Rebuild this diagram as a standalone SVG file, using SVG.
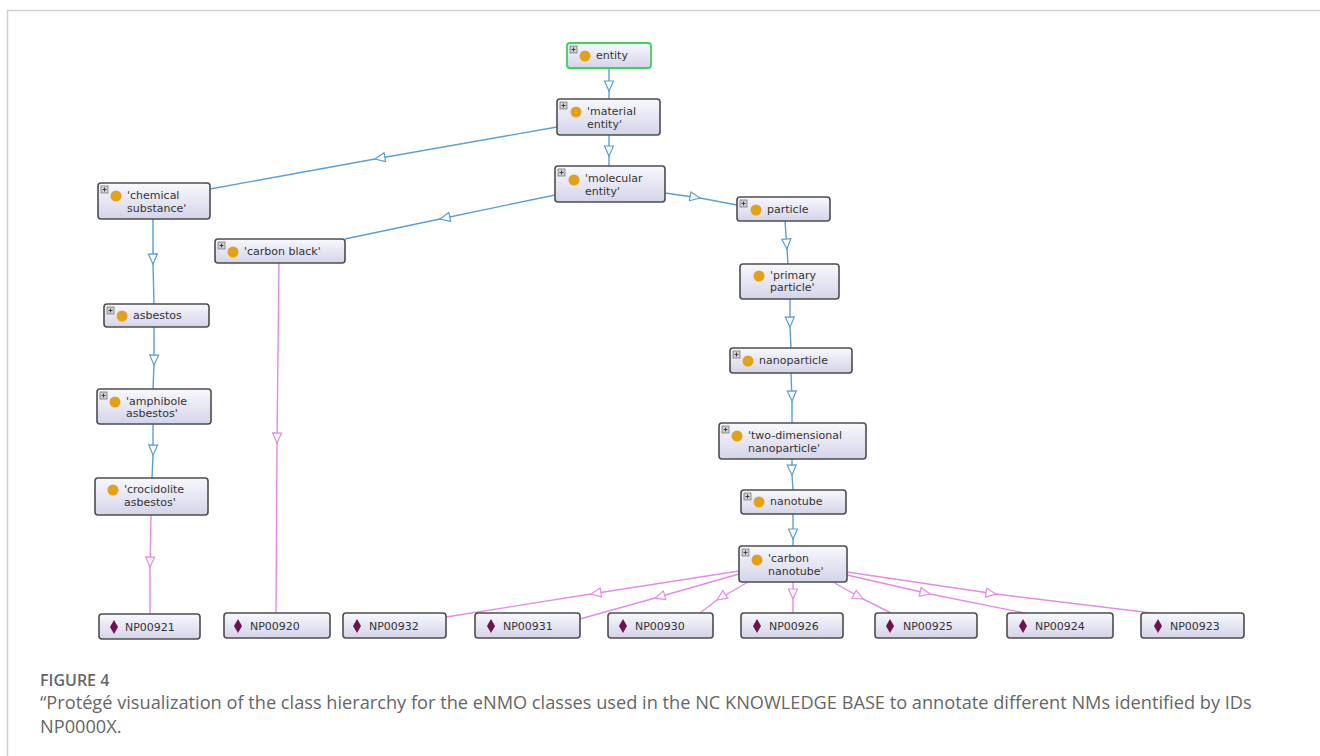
<svg xmlns="http://www.w3.org/2000/svg" width="1320" height="756" viewBox="0 0 1320 756">
<defs>
<linearGradient id="g" x1="0" y1="0" x2="0" y2="1">
<stop offset="0" stop-color="#f8f8fd"/>
<stop offset="1" stop-color="#d4d4ea"/>
</linearGradient>
<marker id="ab" markerUnits="userSpaceOnUse" markerWidth="12" markerHeight="10" refX="10" refY="4.5" orient="auto" overflow="visible">
<path d="M0,0 L10,4.5 L0,9 Z" fill="#fff" stroke="#5b9fd4" stroke-width="1.2"/>
</marker>
<marker id="ap" markerUnits="userSpaceOnUse" markerWidth="12" markerHeight="10" refX="10" refY="4.5" orient="auto" overflow="visible">
<path d="M0,0 L10,4.5 L0,9 Z" fill="#fff" stroke="#e58ae6" stroke-width="1.2"/>
</marker>
</defs>
<style>
.n{fill:url(#g);stroke:#4d4d4d;stroke-width:1.6}
.t{font-family:"DejaVu Sans",Verdana,sans-serif;font-size:11px;fill:#333}
.c{fill:#e3a118}
.d{fill:#6e1250}
.pb{fill:#d0d0d8;stroke:#7a7a7a;stroke-width:0.8}
.pl{stroke:#333;stroke-width:0.9}
.eb{fill:none;stroke:#5b9fd4;stroke-width:1.4;marker-mid:url(#ab)}
.ep{fill:none;stroke:#e58ae6;stroke-width:1.4;marker-mid:url(#ap)}
.cap{font-family:"Open Sans",sans-serif;fill:#666}
</style>
<rect x="0" y="0" width="1320" height="756" fill="#fff"/>
<path d="M7.5,756 V10.5 H1320" fill="none" stroke="#cfcfcf" stroke-width="1.5"/>

<g id="connectors">
<path class="eb" d="M609,68 L609,91 L609,99"/>
<path class="eb" d="M557,127 L375,159 L210,189"/>
<path class="eb" d="M609,135 L609,156 L609,166"/>
<path class="eb" d="M555,195 L440,219 L345,239"/>
<path class="eb" d="M665,193 L700,198 L737,205"/>
<path class="eb" d="M785,221 L787,249 L788,264"/>
<path class="eb" d="M790,299 L790,327 L791,348"/>
<path class="eb" d="M791,373 L792,401 L792,423"/>
<path class="eb" d="M792,459 L792,475 L793,490"/>
<path class="eb" d="M793,514 L793,539 L793,546"/>
<path class="eb" d="M153,219 L153,264 L154,304"/>
<path class="eb" d="M154,327 L154,365 L153,389"/>
<path class="eb" d="M153,424 L153,455 L152,478"/>
<path class="ep" d="M151,515 L150,567 L150,614"/>
<path class="ep" d="M279,263 L277,443 L276,613"/>
<path class="ep" d="M739,571 L591,594 L446,617"/>
<path class="ep" d="M739,574 L655,598 L580,619"/>
<path class="ep" d="M748,582 L717,600 L700,613"/>
<path class="ep" d="M793,582 L793,599 L793,614"/>
<path class="ep" d="M833,582 L863,599 L893,614"/>
<path class="ep" d="M847,575 L930,594 L1030,614"/>
<path class="ep" d="M847,572 L996,594 L1160,614"/>
</g>

<g id="entity">
<rect x="567" y="43" width="84" height="25" rx="3" fill="url(#g)" stroke="#3ad35a" stroke-width="1.8"/>
<rect class="pb" x="570" y="46" width="7" height="7"/><path class="pl" d="M571.5,49.5h4M573.5,47.5v4"/>
<circle class="c" cx="585" cy="56" r="5.5"/>
<text class="t" x="596" y="59">entity</text>
</g>
<g id="material-entity">
<rect class="n" x="557" y="99" width="103" height="36" rx="3"/>
<rect class="pb" x="560" y="102" width="7" height="7"/><path class="pl" d="M561.5,105.5h4M563.5,103.5v4"/>
<circle class="c" cx="576" cy="112" r="5.5"/>
<text class="t" x="587" y="115">'material</text><text class="t" x="587" y="128">entity'</text>
</g>
<g id="chemical-substance">
<rect class="n" x="98" y="183" width="112" height="36" rx="3"/>
<rect class="pb" x="101" y="186" width="7" height="7"/><path class="pl" d="M102.5,189.5h4M104.5,187.5v4"/>
<circle class="c" cx="116" cy="196" r="5.5"/>
<text class="t" x="127" y="199">'chemical</text><text class="t" x="127" y="212">substance'</text>
</g>
<g id="molecular-entity">
<rect class="n" x="555" y="166" width="110" height="36" rx="3"/>
<rect class="pb" x="558" y="169" width="7" height="7"/><path class="pl" d="M559.5,172.5h4M561.5,170.5v4"/>
<circle class="c" cx="574" cy="180" r="5.5"/>
<text class="t" x="585" y="182">'molecular</text><text class="t" x="585" y="195">entity'</text>
</g>
<g id="particle">
<rect class="n" x="737" y="197" width="93" height="24" rx="3"/>
<rect class="pb" x="740" y="200" width="7" height="7"/><path class="pl" d="M741.5,203.5h4M743.5,201.5v4"/>
<circle class="c" cx="756" cy="210" r="5.5"/>
<text class="t" x="767" y="213">particle</text>
</g>
<g id="carbon-black">
<rect class="n" x="215" y="239" width="130" height="24" rx="3"/>
<rect class="pb" x="218" y="242" width="7" height="7"/><path class="pl" d="M219.5,245.5h4M221.5,243.5v4"/>
<circle class="c" cx="233" cy="252" r="5.5"/>
<text class="t" x="244" y="255">'carbon black'</text>
</g>
<g id="primary-particle">
<rect class="n" x="740" y="264" width="99" height="35" rx="3"/>
<circle class="c" cx="759" cy="276" r="5.5"/>
<text class="t" x="770" y="279">'primary</text><text class="t" x="770" y="291">particle'</text>
</g>
<g id="asbestos">
<rect class="n" x="104" y="304" width="105" height="23" rx="3"/>
<rect class="pb" x="107" y="307" width="7" height="7"/><path class="pl" d="M108.5,310.5h4M110.5,308.5v4"/>
<circle class="c" cx="122" cy="316" r="5.5"/>
<text class="t" x="133" y="319">asbestos</text>
</g>
<g id="nanoparticle">
<rect class="n" x="730" y="348" width="122" height="25" rx="3"/>
<rect class="pb" x="733" y="351" width="7" height="7"/><path class="pl" d="M734.5,354.5h4M736.5,352.5v4"/>
<circle class="c" cx="748" cy="361" r="5.5"/>
<text class="t" x="759" y="364">nanoparticle</text>
</g>
<g id="amphibole-asbestos">
<rect class="n" x="97" y="389" width="114" height="35" rx="3"/>
<rect class="pb" x="100" y="392" width="7" height="7"/><path class="pl" d="M101.5,395.5h4M103.5,393.5v4"/>
<circle class="c" cx="115" cy="402" r="5.5"/>
<text class="t" x="126" y="405">'amphibole</text><text class="t" x="126" y="417">asbestos'</text>
</g>
<g id="two-dimensional-nanoparticle">
<rect class="n" x="719" y="423" width="147" height="36" rx="3"/>
<rect class="pb" x="722" y="426" width="7" height="7"/><path class="pl" d="M723.5,429.5h4M725.5,427.5v4"/>
<circle class="c" cx="737" cy="436" r="5.5"/>
<text class="t" x="748" y="439">'two-dimensional</text><text class="t" x="748" y="452">nanoparticle'</text>
</g>
<g id="crocidolite-asbestos">
<rect class="n" x="95" y="478" width="113" height="37" rx="3"/>
<circle class="c" cx="113" cy="490" r="5.5"/>
<text class="t" x="124" y="493">'crocidolite</text><text class="t" x="124" y="506">asbestos'</text>
</g>
<g id="nanotube">
<rect class="n" x="741" y="490" width="105" height="24" rx="3"/>
<rect class="pb" x="744" y="493" width="7" height="7"/><path class="pl" d="M745.5,496.5h4M747.5,494.5v4"/>
<circle class="c" cx="759" cy="502" r="5.5"/>
<text class="t" x="770" y="505">nanotube</text>
</g>
<g id="carbon-nanotube">
<rect class="n" x="739" y="546" width="108" height="36" rx="3"/>
<rect class="pb" x="742" y="549" width="7" height="7"/><path class="pl" d="M743.5,552.5h4M745.5,550.5v4"/>
<circle class="c" cx="757" cy="560" r="5.5"/>
<text class="t" x="768" y="562">'carbon</text><text class="t" x="768" y="575">nanotube'</text>
</g>

<g id="NP00921"><rect class="n" x="99" y="614" width="101" height="25" rx="3"/><path class="d" d="M114,620 L118,627 L114,634 L110,627 Z"/><text class="t" x="125" y="631">NP00921</text></g>
<g id="NP00920"><rect class="n" x="224" y="613" width="106" height="25" rx="3"/><path class="d" d="M238,619 L242,626 L238,633 L234,626 Z"/><text class="t" x="250" y="630">NP00920</text></g>
<g id="NP00932"><rect class="n" x="343" y="613" width="103" height="25" rx="3"/><path class="d" d="M357,619 L361,626 L357,633 L353,626 Z"/><text class="t" x="369" y="630">NP00932</text></g>
<g id="NP00931"><rect class="n" x="475" y="613" width="105" height="25" rx="3"/><path class="d" d="M491,619 L495,626 L491,633 L487,626 Z"/><text class="t" x="503" y="630">NP00931</text></g>
<g id="NP00930"><rect class="n" x="608" y="613" width="105" height="25" rx="3"/><path class="d" d="M623,619 L627,626 L623,633 L619,626 Z"/><text class="t" x="635" y="630">NP00930</text></g>
<g id="NP00926"><rect class="n" x="741" y="613" width="102" height="25" rx="3"/><path class="d" d="M757,619 L761,626 L757,633 L753,626 Z"/><text class="t" x="769" y="630">NP00926</text></g>
<g id="NP00925"><rect class="n" x="875" y="613" width="102" height="25" rx="3"/><path class="d" d="M890,619 L894,626 L890,633 L886,626 Z"/><text class="t" x="903" y="630">NP00925</text></g>
<g id="NP00924"><rect class="n" x="1007" y="613" width="106" height="25" rx="3"/><path class="d" d="M1023,619 L1027,626 L1023,633 L1019,626 Z"/><text class="t" x="1035" y="630">NP00924</text></g>
<g id="NP00923"><rect class="n" x="1141" y="613" width="103" height="25" rx="3"/><path class="d" d="M1158,619 L1162,626 L1158,633 L1154,626 Z"/><text class="t" x="1170" y="630">NP00923</text></g>

<text class="cap" x="40" y="686" font-size="16" font-weight="600" fill="#555">FIGURE 4</text>
<text class="cap" x="40" y="709" font-size="18.2">“Protégé visualization of the class hierarchy for the eNMO classes used in the NC KNOWLEDGE BASE to annotate different NMs identified by IDs</text>
<text class="cap" x="40" y="733" font-size="18.2">NP0000X.</text>
</svg>
